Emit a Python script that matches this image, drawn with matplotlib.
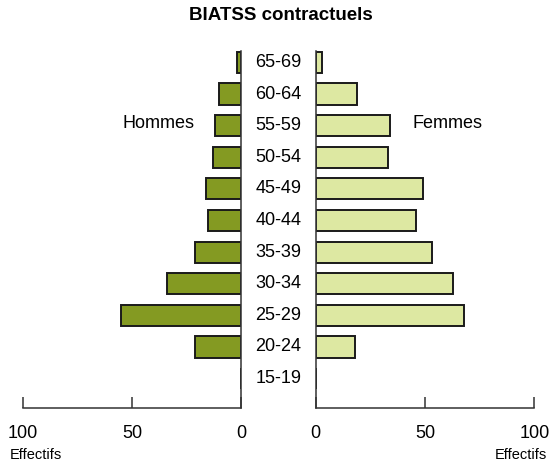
import matplotlib
matplotlib.use('Agg')
import matplotlib.pyplot as plt
import matplotlib.transforms as mtransforms
import numpy as np

plt.rcParams.update({
    "font.family": ["Liberation Sans", "DejaVu Sans"],
    "font.size": 13,
})

# Données (effectifs par tranche d'âge)
ages    = ["15-19", "20-24", "25-29", "30-34", "35-39", "40-44",
           "45-49", "50-54", "55-59", "60-64", "65-69"]
hommes  = [0, 21, 55, 34, 21, 15, 16, 13, 12, 10, 2]
femmes  = [0, 18, 68, 63, 53, 46, 49, 33, 34, 19, 3]
ticks   = [0, 50, 100]

OLIVE = "#849A22"
PALE  = "#DDE8A2"
EDGE  = "#1A1A1A"
SPINE = "#333333"

fig = plt.figure(figsize=(5.57, 4.65), dpi=100)
axL = fig.add_axes([0.0408, 0.1226, 0.392, 0.7677])
axR = fig.add_axes([0.5668, 0.1226, 0.3925, 0.7677])

y = np.arange(len(ages))
axL.barh(y, hommes, height=0.67, color=OLIVE, edgecolor=EDGE, linewidth=1.4)
axR.barh(y, femmes, height=0.67, color=PALE, edgecolor=EDGE, linewidth=1.4)

for ax in (axL, axR):
    ax.set_ylim(-0.93, 10.36)
    ax.set_xticks(ticks)
    ax.set_yticks([])
    ax.spines["top"].set_visible(False)
    ax.tick_params(axis="x", direction="in", length=8, width=1.1,
                   color=SPINE, pad=12, labelsize=13)
    for s in ("left", "right", "bottom"):
        ax.spines[s].set_color(SPINE)
        ax.spines[s].set_linewidth(1.1)

axL.set_xlim(100, 0)
axL.spines["left"].set_visible(False)
axR.set_xlim(0, 100)
axR.spines["right"].set_visible(False)

# étiquettes des tranches d'âge au centre
trans = mtransforms.blended_transform_factory(fig.transFigure, axL.transData)
for yi, lab in zip(y, ages):
    fig.text(278.5 / 557, yi, lab, transform=trans, ha="center", va="center",
             fontsize=13)

fig.text(158 / 557, 1 - 123 / 465, "Hommes", ha="center", va="center", fontsize=13)
fig.text(447 / 557, 1 - 123 / 465, "Femmes", ha="center", va="center", fontsize=13)
fig.text(280.5 / 557, 1 - 16 / 465, "BIATSS contractuels", ha="center", va="center",
         fontsize=13.5, fontweight="bold")
fig.text(10 / 557, 1 - 455 / 465, "Effectifs", ha="left", va="center", fontsize=10.5)
fig.text(547 / 557, 1 - 455 / 465, "Effectifs", ha="right", va="center", fontsize=10.5)

fig.savefig("out.png", dpi=100)
